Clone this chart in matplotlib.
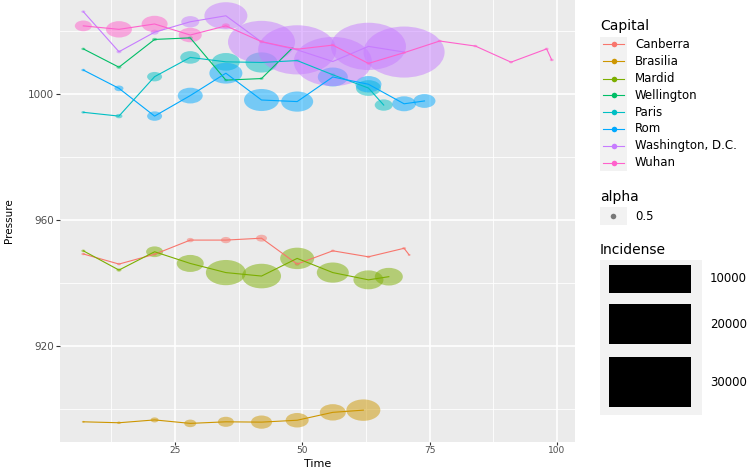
import matplotlib
matplotlib.use("Agg")
import matplotlib.pyplot as plt
from matplotlib.path import Path
from matplotlib.transforms import Affine2D
from matplotlib.patches import Rectangle
from matplotlib.lines import Line2D

W, H = 749, 469

capitals = ["Canberra", "Brasilia", "Mardid", "Wellington", "Paris", "Rom",
            "Washington, D.C.", "Wuhan"]
colors = ["#F8766D", "#CD9600", "#7CAE00", "#00BE67", "#00BFC4", "#00A9FF",
          "#C77CFF", "#FF61CC"]

canberra_time = [7, 14, 21, 28, 35, 42, 49, 56, 63, 70, 71]
canberra_pressure = [949.2, 946.0, 949.1, 953.6, 953.6, 954.2, 946.0, 950.2, 948.3, 951.0, 948.9]
canberra_incidence = [180, 180, 180, 540, 1110, 1340, 280, 180, 180, 180, 100]

brasilia_time = [7, 14, 21, 28, 35, 42, 49, 56, 62]
brasilia_pressure = [896.0, 895.7, 896.6, 895.5, 896.0, 895.9, 896.5, 899.0, 899.7]
brasilia_incidence = [100, 180, 710, 1600, 2840, 4900, 5880, 7510, 12840]

mardid_time = [7, 14, 21, 28, 35, 42, 49, 56, 63, 67]
mardid_pressure = [950.2, 944.1, 949.9, 946.2, 943.3, 942.2, 947.8, 943.3, 941.0, 942.0]
mardid_incidence = [180, 280, 3210, 8100, 17780, 16900, 12840, 11380, 10000, 8710]

wellington_time = [7, 14, 21, 28, 35, 42, 48]
wellington_pressure = [1014.2, 1008.4, 1017.2, 1017.7, 1004.3, 1004.8, 1014.4]
wellington_incidence = [180, 280, 280, 280, 180, 180, 180]

paris_time = [7, 14, 21, 28, 35, 42, 49, 56, 63, 66]
paris_pressure = [994.1, 992.9, 1005.4, 1011.5, 1010.1, 1009.9, 1010.5, 1006.0, 1001.8, 996.4]
paris_incidence = [180, 540, 2500, 4440, 8710, 11380, 280, 280, 6940, 3600]

rom_time = [7, 14, 21, 28, 35, 42, 49, 56, 63, 70, 74]
rom_pressure = [1007.5, 1001.7, 992.9, 999.4, 1006.5, 998.0, 997.5, 1005.3, 1003.0, 996.8, 997.7]
rom_incidence = [180, 900, 2500, 6940, 12100, 13610, 11380, 10000, 7510, 6250, 5380]

washington_time = [7, 14, 21, 28, 35, 42, 49, 56, 63, 70]
washington_pressure = [1026.0, 1013.3, 1019.5, 1022.8, 1024.7, 1016.4, 1013.9, 1010.2, 1015.0, 1013.2]
washington_incidence = [180, 280, 710, 3600, 20540, 49880, 67600, 67600, 62500, 72900]

wuhan_time = [7, 14, 21, 28, 35, 42, 49, 56, 63, 70, 77, 84, 91, 98, 99]
wuhan_pressure = [1021.5, 1020.4, 1022.1, 1018.6, 1021.5, 1016.5, 1014.1, 1015.4, 1009.6,
                  1013.0, 1016.7, 1015.1, 1010.0, 1014.2, 1010.7]
wuhan_incidence = [3210, 7510, 7510, 5880, 710, 280, 180, 180, 180, 180, 180, 180, 180, 180, 180]

times = [canberra_time, brasilia_time, mardid_time, wellington_time, paris_time,
         rom_time, washington_time, wuhan_time]
pressures = [canberra_pressure, brasilia_pressure, mardid_pressure, wellington_pressure,
             paris_pressure, rom_pressure, washington_pressure, wuhan_pressure]
incidences = [canberra_incidence, brasilia_incidence, mardid_incidence, wellington_incidence,
              paris_incidence, rom_incidence, washington_incidence, wuhan_incidence]

size_breaks = [10000, 20000, 30000]


def fx(x):
    return x / W


def fy(y):
    return 1 - y / H


# the source picture is stretched sideways, so the points are ellipses
ellipse = Path.unit_circle().transformed(Affine2D().scale(1.0, 0.63))


def marker_area(inc):
    return [0.0467 * v for v in inc]


fig = plt.figure(figsize=(W / 100, H / 100), dpi=100)
ax = fig.add_axes([fx(60), fy(442), (575 - 60) / W, 442 / H])
ax.set_facecolor("#EBEBEB")
for s in ax.spines.values():
    s.set_visible(False)

for t, p, inc, c in zip(times, pressures, incidences, colors):
    ax.scatter(t, p, s=marker_area(inc), marker=ellipse, color=c, alpha=0.5,
               edgecolors="none", zorder=2)
for t, p, c in zip(times, pressures, colors):
    ax.plot(t, p, color=c, lw=0.8, zorder=3)

ax.set_xlim(2.42, 103.57)
ax.set_ylim(889.6, 1029.7)
ax.set_xticks([25, 50, 75, 100])
ax.set_xticks([12.5, 37.5, 62.5, 87.5], minor=True)
ax.set_yticks([920, 960, 1000])
ax.set_yticks([900, 940, 980, 1020], minor=True)
ax.grid(which="major", color="white", lw=1.2)
ax.grid(which="minor", color="white", lw=0.6)
ax.set_axisbelow(True)
ax.tick_params(which="major", length=3, width=0.8, color="#333333",
               labelsize=7.5, labelcolor="#4D4D4D", pad=1.5)
ax.tick_params(axis="x", which="major", labelsize=6.5, length=2.5, pad=0.5)
ax.tick_params(which="minor", length=0)

fig.text(fx(317.5), 0.0, "Time", ha="center", va="bottom", fontsize=8)
fig.text(fx(9), fy(221), "Pressure", ha="center", va="center", rotation=90, fontsize=7.5)

# Capital legend
fig.text(fx(600), fy(26), "Capital", ha="left", va="center", fontsize=10)
fig.patches.append(Rectangle((fx(600), fy(171)), 27 / W, 134 / H, transform=fig.transFigure,
                             facecolor="#F2F2F2", edgecolor="none"))
key_y = [44.3, 61.5, 78.5, 95.3, 112, 129, 145.7, 162.7]
for name, c, y in zip(capitals, colors, key_y):
    fig.lines.append(Line2D([fx(603), fx(624)], [fy(y), fy(y)], transform=fig.transFigure,
                            color=c, lw=0.8))
    fig.lines.append(Line2D([fx(613.5)], [fy(y)], transform=fig.transFigure, marker="o",
                            markersize=4, color=c, markeredgewidth=0))
    fig.text(fx(635), fy(y), name, ha="left", va="center", fontsize=8.5)

# alpha legend
fig.text(fx(600), fy(197), "alpha", ha="left", va="center", fontsize=10)
fig.patches.append(Rectangle((fx(600), fy(225)), 27 / W, 18 / H, transform=fig.transFigure,
                             facecolor="#F2F2F2", edgecolor="none"))
fig.lines.append(Line2D([fx(613)], [fy(216)], transform=fig.transFigure, marker="o",
                        markersize=4, color="black", alpha=0.5, markeredgewidth=0))
fig.text(fx(635), fy(216), "0.5", ha="left", va="center", fontsize=8.5)

# Incidense legend
fig.text(fx(600), fy(250), "Incidense", ha="left", va="center", fontsize=10)
fig.patches.append(Rectangle((fx(600), fy(415)), 102 / W, 155 / H, transform=fig.transFigure,
                             facecolor="#F2F2F2", edgecolor="none"))
boxes = [(265, 293), (304, 344), (357, 407)]
for b, (y0, y1) in zip(size_breaks, boxes):
    fig.patches.append(Rectangle((fx(609), fy(y1)), 82 / W, (y1 - y0) / H,
                                 transform=fig.transFigure, facecolor="black",
                                 edgecolor="none"))
    fig.text(fx(710), fy((y0 + y1) / 2), str(b), ha="left", va="center", fontsize=8.5)

fig.savefig("out.png", dpi=100)
